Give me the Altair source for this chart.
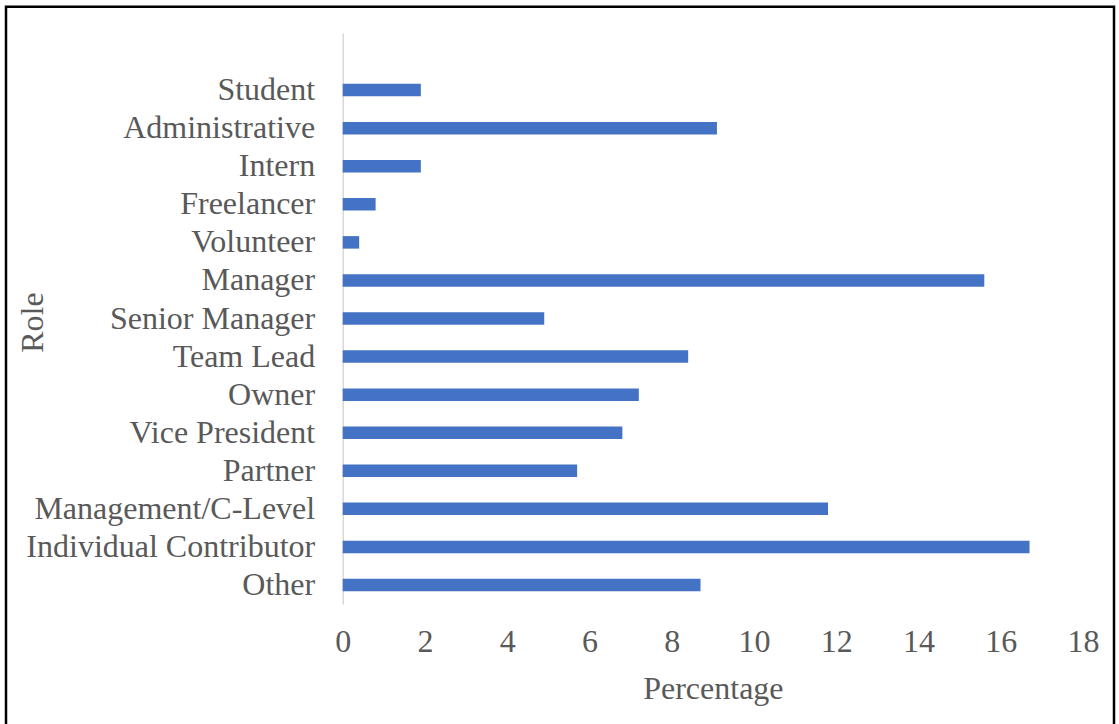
import altair as alt
import pandas as pd

# Share of respondents by role (percent)
roles = [
    "Student", "Administrative", "Intern", "Freelancer", "Volunteer",
    "Manager", "Senior Manager", "Team Lead", "Owner", "Vice President",
    "Partner", "Management/C-Level", "Individual Contributor", "Other",
]
percentages = [1.9, 9.1, 1.9, 0.8, 0.4, 15.6, 4.9, 8.4, 7.2, 6.8, 5.7, 11.8, 16.7, 8.7]
x_ticks = [0, 2, 4, 6, 8, 10, 12, 14, 16, 18]

df = pd.DataFrame({"Role": roles, "Percentage": percentages})

FONT = "Liberation Serif"
TEXT = "#595959"
PLOT_W = 740.3
PLOT_H = 571
LEFT = 342.7
TOP = 33

# a blank slot above the first role leaves the empty band at the top
y_domain = [""] + roles

bars = alt.Chart(df).mark_bar(size=12.5, color="#4472C4").encode(
    x=alt.X(
        "Percentage:Q",
        scale=alt.Scale(domain=[0, 18], nice=False, zero=True),
        axis=alt.Axis(
            values=x_ticks,
            title="Percentage",
            domain=False,
            grid=False,
            ticks=False,
            tickSize=0,
            labelFlush=False,
            labelPadding=37,
            labelBaseline="middle",
            labelFont=FONT,
            labelFontSize=32,
            labelColor=TEXT,
            titleFont=FONT,
            titleFontSize=32,
            titleFontWeight="normal",
            titleColor=TEXT,
            titleBaseline="middle",
            titleY=84,
        ),
    ),
    y=alt.Y(
        "Role:N",
        sort=None,
        scale=alt.Scale(domain=y_domain, paddingInner=0, paddingOuter=0),
        axis=alt.Axis(
            title="Role",
            domain=True,
            domainColor="#D9D9D9",
            domainWidth=1.5,
            grid=False,
            ticks=False,
            tickSize=0,
            labelLimit=0,
            labelPadding=28,
            labelFont=FONT,
            labelFontSize=32,
            labelColor=TEXT,
            titleFont=FONT,
            titleFontSize=32,
            titleFontWeight="normal",
            titleColor=TEXT,
            titleAngle=270,
            titleAlign="center",
            titleBaseline="middle",
            titleX=-310,
            titleY=289,
        ),
    ),
)

# black frame around the whole figure
frame = alt.Chart(pd.DataFrame({"frame": [0]})).mark_rect(
    fill="transparent", stroke="black", strokeWidth=2.5
).encode(
    x=alt.value(6 - LEFT),
    x2=alt.value(1114 - LEFT),
    y=alt.value(6.7 - TOP),
    y2=alt.value(740 - TOP),
)

chart = alt.layer(bars, frame).properties(
    width=PLOT_W,
    height=PLOT_H,
    autosize=alt.AutoSizeParams(type="none"),
    padding={"left": LEFT, "top": TOP, "right": 1119 - LEFT - PLOT_W, "bottom": 724 - TOP - PLOT_H},
    background="white",
).configure_view(stroke=None)

chart.save("out.html", embed_options={"renderer": "svg", "actions": False})
